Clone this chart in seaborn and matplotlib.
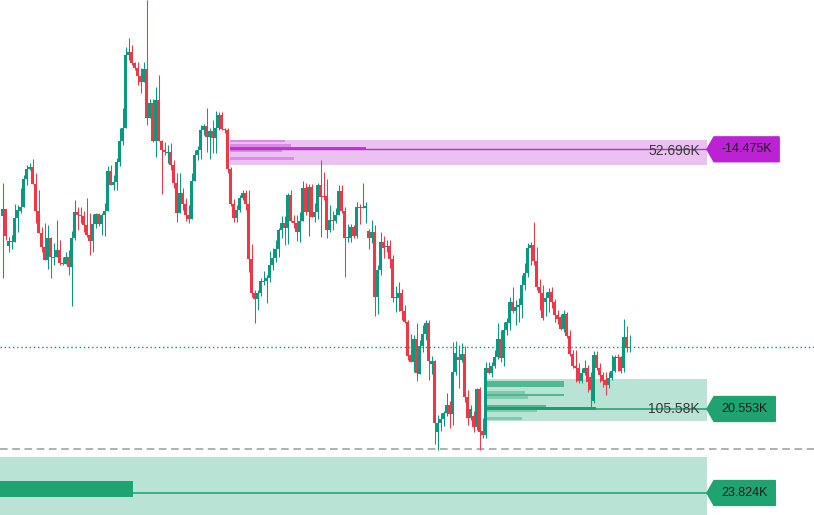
import numpy as np
import pandas as pd
import matplotlib
matplotlib.use("Agg")
import matplotlib.pyplot as plt
from matplotlib.patches import Polygon
import seaborn as sns

# ---------------- OHLC data (price units, one candle per bar) ----------------
open_ = [299,306,269,273,273,297,304,308,336,346,
         348,331,304,282,268,255,277,257,258,265,
         252,251,258,248,277,303,300,299,290,280,
         274,291,301,291,300,304,344,330,333,353,
         374,387,460,463,452,447,439,433,446,397,
         412,374,415,374,365,362,363,350,332,302,
         322,311,300,296,334,360,365,385,389,378,
         384,377,387,400,386,385,346,311,297,305,
         317,322,311,256,222,216,222,233,234,237,
         250,257,266,285,292,287,320,294,292,283,
         294,327,303,328,298,303,330,319,319,285,
         295,294,300,324,304,277,277,288,279,308,
         307,307,284,277,283,218,245,273,268,269,
         256,217,217,222,204,193,160,153,176,141,
         169,181,192,151,154,83,92,96,102,110,
         101,143,158,155,161,118,97,99,88,126,
         84,80,147,142,149,158,176,157,185,192,
         213,204,208,210,230,242,267,270,254,228,
         222,213,217,223,213,200,198,186,201,179,
         161,149,147,134,142,147,138,114,160,147,
         140,135,130,137,144,158,158,147,178,167]
close = [306,279,274,274,297,305,308,336,346,348,
         331,304,282,268,255,277,258,258,265,252,
         251,258,248,277,303,300,299,290,280,274,
         291,301,291,300,304,344,330,333,353,374,
         387,460,463,452,447,439,433,446,397,412,
         374,415,374,365,363,363,350,332,302,322,
         311,300,296,334,360,365,385,389,378,384,
         377,387,400,386,385,346,311,297,305,317,
         322,311,256,222,216,222,234,234,237,250,
         257,266,285,292,287,320,294,292,283,294,
         327,303,328,298,303,330,318,318,285,295,
         294,300,324,304,277,278,288,279,308,307,
         308,309,277,283,218,245,273,267,269,256,
         217,218,222,204,193,159,153,176,142,169,
         181,192,154,154,92,92,96,102,110,101,
         143,162,155,161,118,97,106,88,126,83,
         80,147,142,149,158,176,157,185,193,213,
         204,208,210,230,242,267,270,254,228,222,
         197,217,223,213,200,196,186,201,179,161,
         149,147,134,142,147,133,125,160,147,140,
         134,130,137,144,158,157,144,178,167,168]
high = [332,306,278,280,311,310,327,340,350,352,
        356,342,325,288,292,290,278,272,295,275,
        258,263,265,284,315,308,308,304,317,302,
        301,302,302,302,312,349,350,340,357,387,
        407,468,477,470,453,453,447,453,515,416,
        416,428,440,375,373,370,372,355,342,342,
        327,317,310,342,365,369,390,391,407,387,
        395,404,403,403,387,387,348,316,310,320,
        325,325,325,271,225,225,237,244,240,264,
        267,275,287,299,299,322,325,300,300,303,
        334,332,331,331,312,332,355,343,336,310,
        304,307,330,330,308,291,291,290,313,311,
        332,313,286,295,290,250,283,279,275,275,
        260,229,233,226,210,195,181,180,192,175,
        190,195,195,159,155,100,102,104,122,114,
        173,174,170,172,169,125,110,104,127,128,
        97,153,153,153,165,192,185,193,197,218,
        228,215,217,240,252,272,273,293,268,236,
        230,223,227,228,216,205,201,205,203,185,
        165,165,152,147,155,150,143,164,164,152,
        143,143,143,160,160,161,159,196,189,180]
low = [237,275,263,266,273,283,302,308,330,345,
       331,292,282,263,255,246,237,250,258,250,
       250,251,240,209,275,285,292,283,278,260,
       263,287,289,280,279,304,330,325,325,349,
       370,387,455,450,445,430,422,433,390,397,
       373,358,374,321,360,352,345,327,293,302,
       305,294,292,296,334,355,356,380,363,356,
       362,362,385,385,382,342,309,293,293,303,
       315,305,243,218,192,205,219,230,212,233,
       245,253,258,277,270,271,293,287,274,273,
       294,300,279,298,293,296,278,315,277,283,
       285,292,300,302,238,273,273,277,277,291,
       307,292,266,272,199,201,240,257,263,247,
       213,203,204,195,192,155,153,143,134,141,
       163,175,135,141,71,65,84,89,99,87,
       90,140,127,153,113,90,95,83,85,65,
       77,77,141,138,147,156,153,149,180,185,
       202,190,193,197,225,238,250,250,225,205,
       195,199,203,207,193,191,185,183,177,159,
       147,133,132,132,140,123,108,112,145,133,
       128,120,127,135,143,144,142,143,163,163]

# ---------------- zones / volume profiles ----------------
supply_anchor = 76
supply_lo, supply_hi, supply_poc = 350, 375, 365.7
supply_rows_lo = [373, 368, 365.7, 363, 355]
supply_rows_hi = [375, 371, 368, 365.7, 358.3]
supply_rows_vol = [21.5, 23.8, 52.696, 20.4, 25.0]
supply_poc_label, supply_delta_label = "52.696K", "-14.475K"

demand_anchor = 161
demand_lo, demand_hi, demand_poc = 94, 136, 106
demand_rows_lo = [128, 121, 119, 116, 108, 105.5, 103, 95]
demand_rows_hi = [134, 124, 121, 119, 110, 108, 105.5, 98]
demand_rows_vol = [74.6, 36.8, 74.6, 39.7, 57.2, 105.58, 48.4, 33.9]
demand_poc_label, demand_delta_label = "105.58K", "20.553K"

deep_lo, deep_hi, deep_poc = 0, 58, 22
deep_rows_lo = [18]
deep_rows_hi = [34]
deep_rows_vol = [23.824]
deep_delta_label = "23.824K"

range_low_level = 66

# ---------------- style ----------------
sns.set_theme(style="white")
plt.rcParams['font.family'] = ['Liberation Sans', 'DejaVu Sans']

GREEN, RED = '#089981', '#F23645'
X_LEFT, X_RIGHT = -2.5 / 3, 811.5 / 3
ZONE_END = 234.85

fig = plt.figure(figsize=(8.14, 5.15), dpi=100)
ax = fig.add_axes([0, 0, 1, 1])
ax.set_xlim(X_LEFT, X_RIGHT)
ax.set_ylim(0, 515)
ax.axis('off')

df = pd.DataFrame(dict(open=open_, high=high, low=low, close=close))
df['x'] = np.arange(len(df))
up = df['close'] >= df['open']
colors = np.where(up, GREEN, RED)

# candles
ax.vlines(df['x'], df['low'], df['high'], colors=colors, lw=0.75, zorder=6)
body_h = (df['close'] - df['open']).abs().clip(lower=1.0)
ax.bar(df['x'], body_h, bottom=df[['open', 'close']].min(axis=1), width=0.92,
       color=colors, linewidth=0, zorder=7)


def draw_zone(x0, lo, hi, fill):
    ax.fill_between([x0, ZONE_END], lo, hi, color=fill, lw=0, zorder=1)


def draw_profile(x0, rows_lo, rows_hi, vols, max_w, poc_col, mid_col, light_col):
    vmax = max(vols)
    for lo_, hi_, v in zip(rows_lo, rows_hi, vols):
        r = v / vmax
        c = poc_col if r >= 0.999 else (mid_col if r > 0.5 else light_col)
        ax.fill_between([x0, x0 + max_w * r], lo_, hi_, color=c, lw=0, zorder=3)


def tag(y, text, color, right):
    tip = ZONE_END
    x0 = tip + 7 / 3
    h = 12.3
    poly = Polygon([(tip, y), (x0, y + h), (right, y + h), (right, y - h), (x0, y - h)],
                   closed=True, fc=color, ec=color, lw=1.2, joinstyle='round', zorder=9)
    ax.add_patch(poly)
    ax.text((x0 + right) / 2, y, text, ha='center', va='center', fontsize=9,
            color='#1c1c1c', zorder=10)


# supply zone (magenta)
draw_zone(supply_anchor - 0.3, supply_lo, supply_hi, '#EBC1F2')
draw_profile(supply_anchor - 0.3, supply_rows_lo, supply_rows_hi, supply_rows_vol,
             45.5, '#BD3CCF', '#D98BE6', '#D98BE6')
ax.plot([supply_anchor - 0.3, ZONE_END], [supply_poc, supply_poc], color='#B533C6', lw=1.0, zorder=4)
ax.text(232.5, supply_poc - 1.5, supply_poc_label, ha='right', va='center', fontsize=10,
        color='#3a3a3a', zorder=10)
tag(supply_poc, supply_delta_label, '#BA22D3', 258.85)

# demand zone (upper green)
draw_zone(demand_anchor, demand_lo, demand_hi, '#B9E3D4')
draw_profile(demand_anchor + 0.6, demand_rows_lo, demand_rows_hi, demand_rows_vol,
             36.3, '#1E9F71', '#52B793', '#7FCBAE')
ax.plot([demand_anchor + 0.6, ZONE_END], [demand_poc, demand_poc], color='#1E9F71', lw=1.1, zorder=4)
ax.text(232.5, demand_poc, demand_poc_label, ha='right', va='center', fontsize=10,
        color='#3a3a3a', zorder=10)
tag(demand_poc, demand_delta_label, '#1FA370', 257.55)

# deep demand zone (lower green)
draw_zone(X_LEFT, deep_lo, deep_hi, '#B9E3D4')
draw_profile(X_LEFT, deep_rows_lo, deep_rows_hi, deep_rows_vol, 44.3,
             '#1FA370', '#52B793', '#7FCBAE')
ax.plot([X_LEFT + 44.3, ZONE_END], [deep_poc, deep_poc], color='#1E9F71', lw=1.1, zorder=4)
tag(deep_poc, deep_delta_label, '#1FA370', 257.55)

# reference lines
ax.axhline(range_low_level, color='#9B9B9B', lw=1.1, ls=(0, (5, 3)), zorder=2)
ax.axhline(close[-1], color='#1E8C70', lw=1.0, ls=(0, (1, 2)), zorder=2)

fig.savefig('out.png', dpi=100)
